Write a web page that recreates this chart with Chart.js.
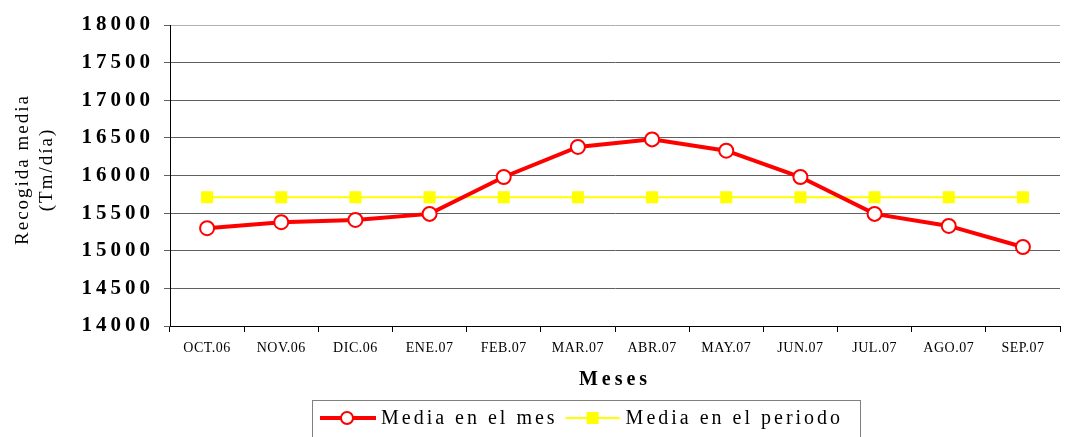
<!DOCTYPE html>
<html>
<head>
<meta charset="utf-8">
<script src="https://cdn.jsdelivr.net/npm/chart.js@4.4.1/dist/chart.umd.min.js"></script>
<style>
  html, body { margin: 0; padding: 0; background: #fff; }
  #wrap { width: 1069px; height: 437px; }
</style>
</head>
<body>
<div id="wrap"><canvas id="chart"></canvas></div>
<script>
const months = ["OCT.06", "NOV.06", "DIC.06", "ENE.07", "FEB.07", "MAR.07",
                "ABR.07", "MAY.07", "JUN.07", "JUL.07", "AGO.07", "SEP.07"];
const mediaMes = [15300, 15380, 15410, 15490, 15980, 16380,
                  16480, 16330, 15980, 15490, 15330, 15050];
const mediaPeriodo = [15710, 15710, 15710, 15710, 15710, 15710,
                      15710, 15710, 15710, 15710, 15710, 15710];
const yTicks = [14000, 14500, 15000, 15500, 16000, 16500, 17000, 17500, 18000];

const SERIF = '"Liberation Serif", "Times New Roman", serif';

// letter spacing: wide on the y axis, tighter on the x axis
const spacing = {
  id: 'spacing',
  beforeUpdate(chart) { chart.ctx.letterSpacing = '4px'; },
  beforeDraw(chart) { chart.ctx.letterSpacing = '4px'; },
  beforeDatasetsDraw(chart) { chart.ctx.letterSpacing = '0.5px'; }
};

// y title + boxed legend
const extras = {
  id: 'extras',
  afterDraw(chart) {
    const ctx = chart.ctx;
    const area = chart.chartArea;
    ctx.save();
    ctx.letterSpacing = '2px';
    ctx.fillStyle = '#000';
    ctx.font = '19px ' + SERIF;
    ctx.textAlign = 'center';
    ctx.textBaseline = 'middle';
    ctx.translate(35, (area.top + area.bottom) / 2 - 6);
    ctx.rotate(-Math.PI / 2);
    ctx.fillText('Recogida media', 0, -12);
    ctx.fillText('(Tm/día)', 0, 12);
    ctx.restore();

    // legend
    const ds = chart.data.datasets;
    const left = 312, right = 860, top = 400, bottom = 440;
    const cy = 418;
    ctx.save();
    ctx.strokeStyle = '#808080';
    ctx.lineWidth = 1;
    ctx.strokeRect(left + 0.5, top + 0.5, right - left, bottom - top);
    ctx.letterSpacing = '3px';
    ctx.font = '20px ' + SERIF;
    ctx.textBaseline = 'middle';
    ctx.fillStyle = '#000';
    let x = left + 8;
    // red series
    ctx.strokeStyle = ds[0].borderColor;
    ctx.lineWidth = 4;
    ctx.beginPath(); ctx.moveTo(x, cy); ctx.lineTo(x + 56, cy); ctx.stroke();
    ctx.beginPath(); ctx.arc(x + 27, cy, 6, 0, Math.PI * 2);
    ctx.fillStyle = '#fff'; ctx.fill();
    ctx.lineWidth = 2; ctx.stroke();
    x += 61;
    ctx.fillStyle = '#000';
    ctx.fillText(ds[0].label, x, cy + 1);
    x += ctx.measureText(ds[0].label).width + 8;
    // yellow series
    ctx.strokeStyle = ds[1].borderColor;
    ctx.lineWidth = 2;
    ctx.beginPath(); ctx.moveTo(x, cy); ctx.lineTo(x + 54, cy); ctx.stroke();
    ctx.fillStyle = ds[1].borderColor;
    ctx.fillRect(x + 21, cy - 6, 12, 12);
    x += 60;
    ctx.fillStyle = '#000';
    ctx.fillText(ds[1].label, x, cy + 1);
    ctx.restore();
  }
};

new Chart(document.getElementById('chart'), {
  type: 'line',
  data: {
    labels: months,
    datasets: [
      {
        label: 'Media en el mes',
        data: mediaMes,
        borderColor: '#ff0000',
        borderWidth: 4,
        pointRadius: 7,
        pointBackgroundColor: '#ffffff',
        pointBorderColor: '#ff0000',
        pointBorderWidth: 2,
        tension: 0
      },
      {
        label: 'Media en el periodo',
        data: mediaPeriodo,
        borderColor: '#ffff00',
        backgroundColor: '#ffff00',
        borderWidth: 2,
        pointStyle: 'rect',
        pointRadius: 8.5,
        pointBackgroundColor: '#ffff00',
        pointBorderColor: '#ffff00',
        pointBorderWidth: 0,
        tension: 0
      }
    ]
  },
  options: {
    responsive: true,
    maintainAspectRatio: false,
    animation: false,
    layout: { padding: { top: 25, right: 0, bottom: 41, left: 0 } },
    plugins: {
      legend: { display: false },
      tooltip: { enabled: false }
    },
    scales: {
      x: {
        offset: true,
        grid: {
          offset: true,
          drawOnChartArea: false,
          drawTicks: true,
          tickLength: 6,
          color: '#000'
        },
        border: { color: '#000', width: 1 },
        ticks: {
          z: 1,
          color: '#000',
          autoSkip: false,
          maxRotation: 0,
          padding: 8,
          font: { family: SERIF, size: 14 }
        },
        title: {
          display: true,
          text: 'Meses',
          color: '#000',
          font: { family: SERIF, size: 20, weight: 'bold' },
          padding: { top: 14 }
        },
        afterFit(scale) { scale.height = 70; }
      },
      y: {
        min: yTicks[0],
        max: yTicks[yTicks.length - 1],
        afterBuildTicks(scale) { scale.ticks = yTicks.map(v => ({ value: v })); },
        grid: {
          color: ctx => ctx.tick && ctx.tick.value === yTicks[yTicks.length - 1] ? '#b0b0b0' : '#606060',
          tickColor: '#606060',
          tickLength: 6,
          lineWidth: 1
        },
        border: { color: '#000', width: 1 },
        ticks: {
          color: '#000',
          padding: 10,
          callback: v => String(v),
          font: { family: SERIF, size: 21, weight: 'bold' }
        },
        afterFit(scale) { scale.width = 170; }
      }
    }
  },
  plugins: [spacing, extras]
});
</script>
</body>
</html>
